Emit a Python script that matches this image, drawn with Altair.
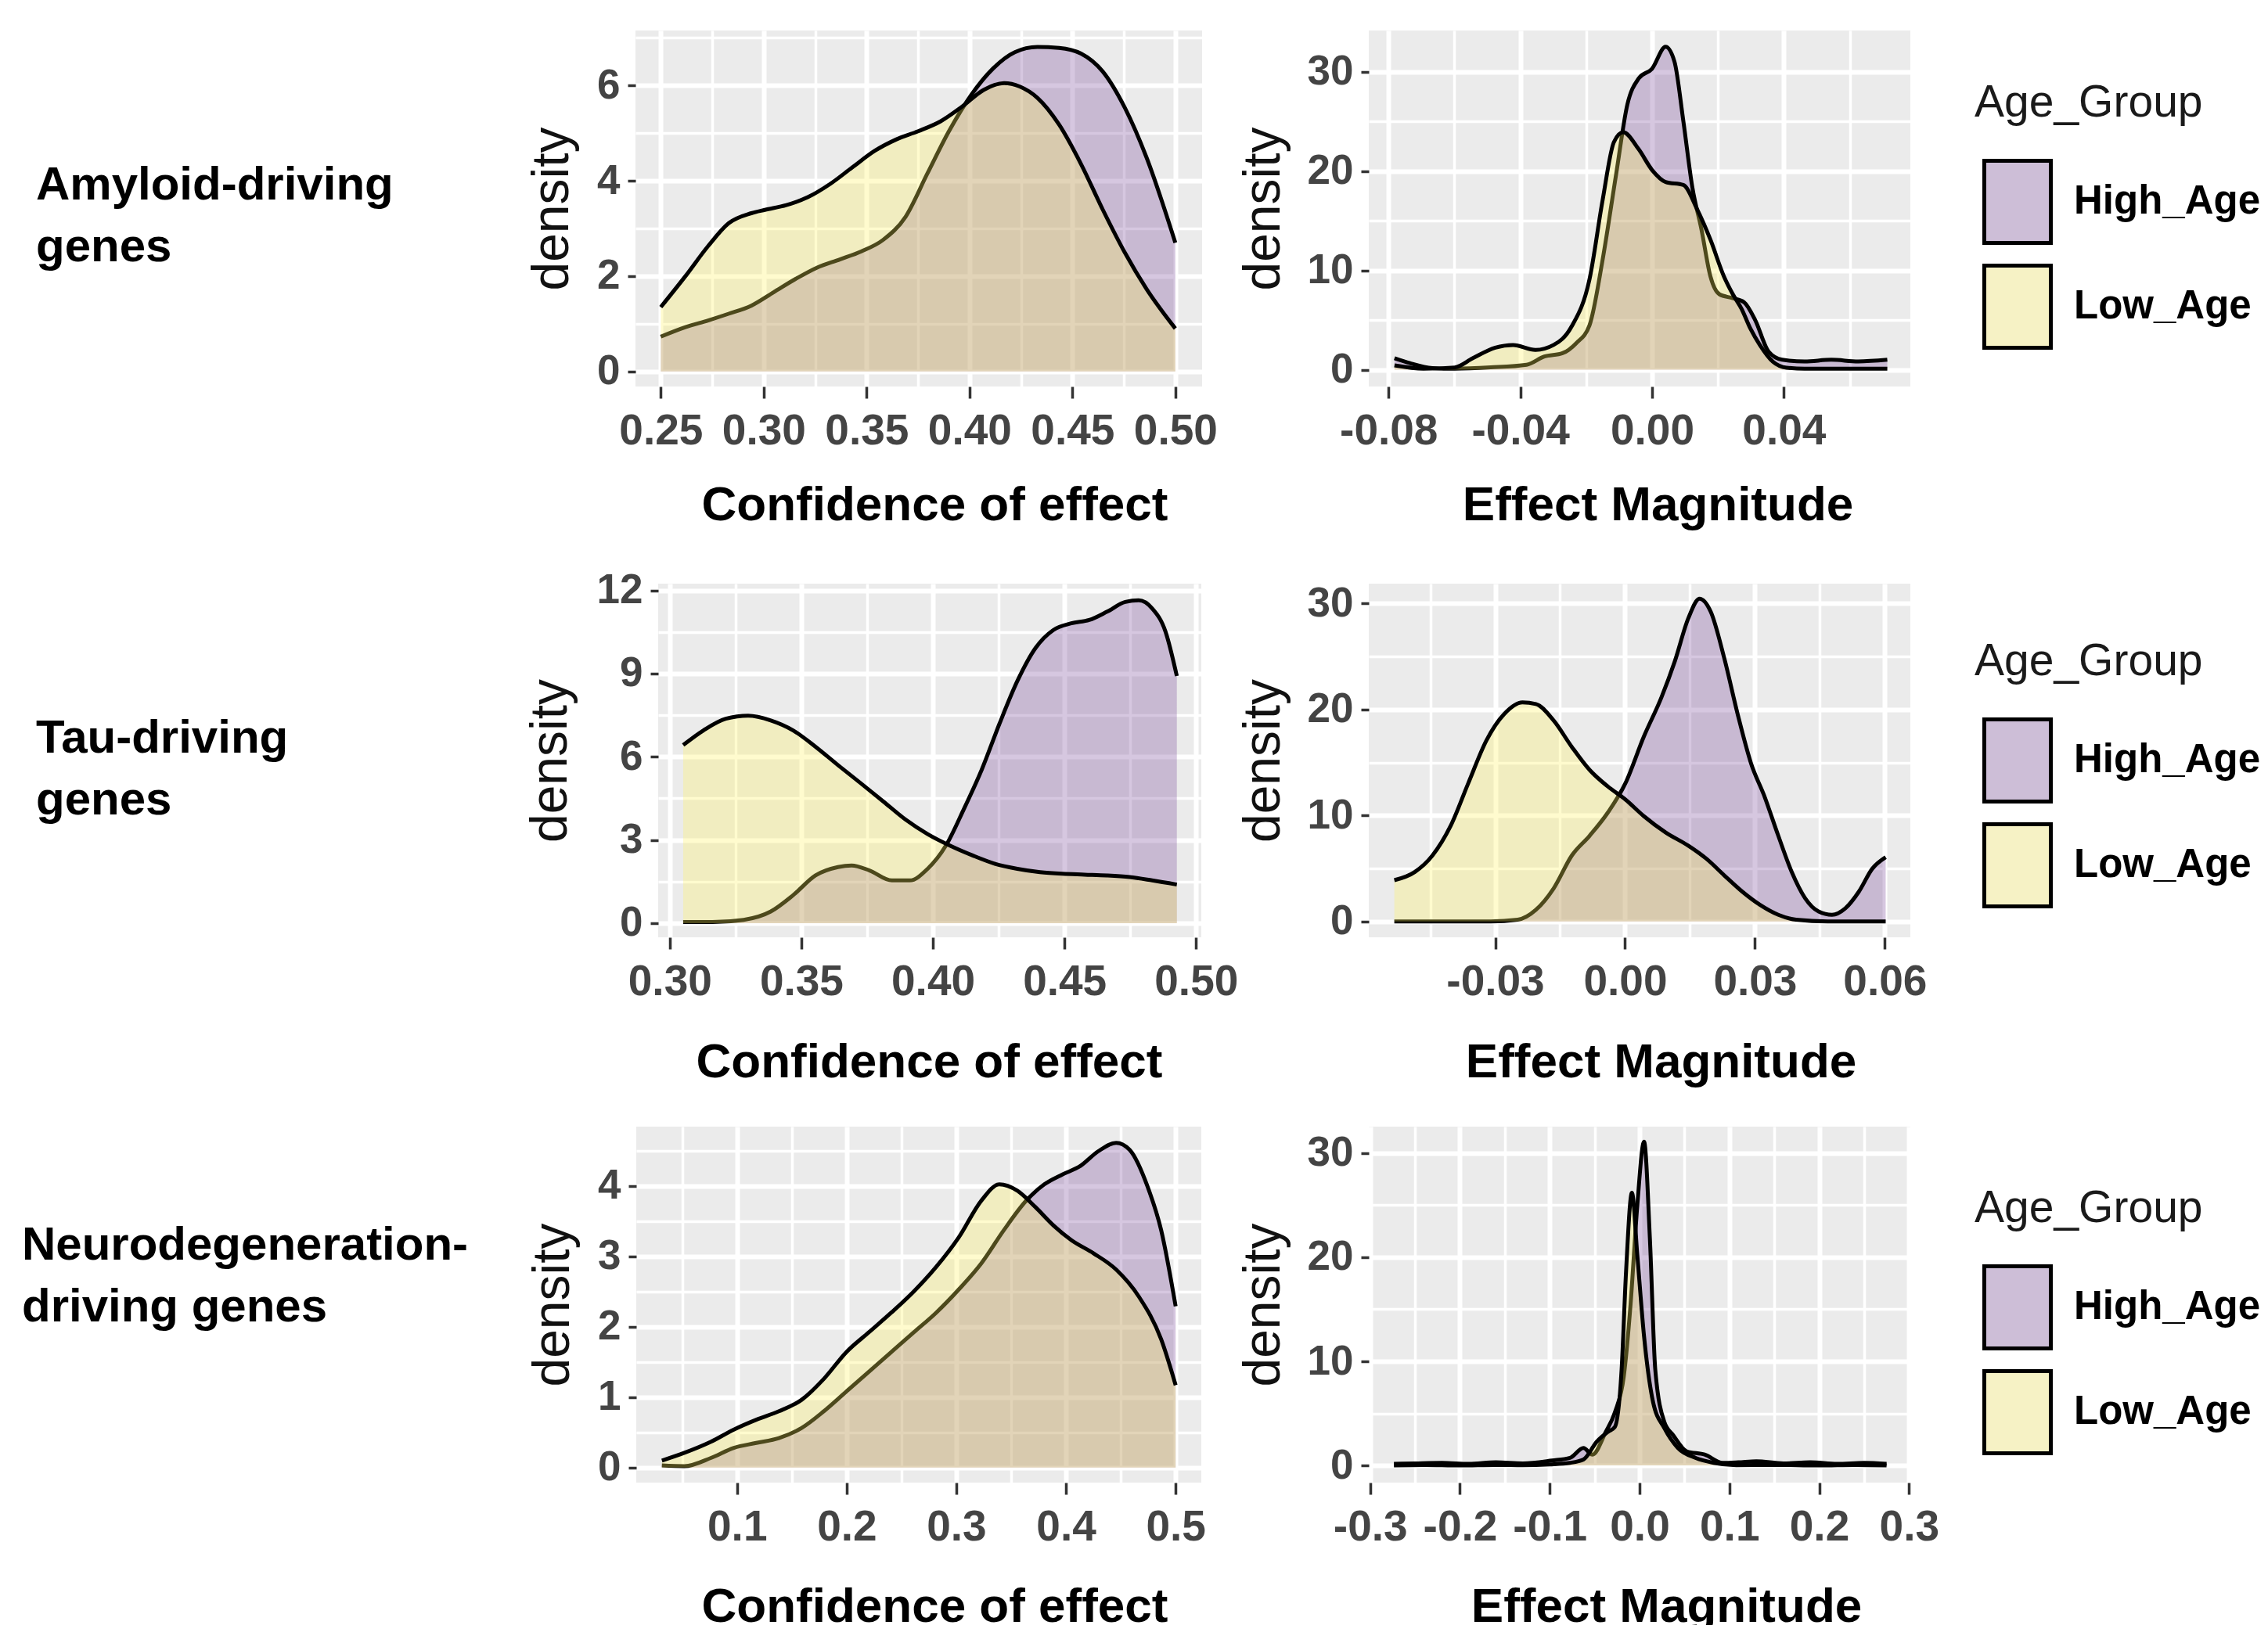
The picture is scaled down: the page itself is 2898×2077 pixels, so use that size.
import altair as alt
import pandas as pd

# ---------------- data ----------------
GROUPS = ["High_Age", "Low_Age"]

# Row 1: Amyloid-driving genes
AMY_CONF_HIGH_X = [0.25, 0.262, 0.273, 0.283, 0.294, 0.3048, 0.3155, 0.326, 0.337, 0.3475, 0.358, 0.369,
                   0.3795, 0.39, 0.4008, 0.4115, 0.422, 0.433, 0.4435, 0.4542, 0.4648, 0.4755, 0.486, 0.5]
AMY_CONF_HIGH_Y = [0.73, 0.93, 1.07, 1.21, 1.38, 1.66, 1.94, 2.18, 2.35, 2.52, 2.76, 3.25,
                   4.15, 5.04, 5.8, 6.36, 6.7, 6.81, 6.79, 6.67, 6.29, 5.53, 4.49, 2.7]
AMY_CONF_LOW_X = [0.25, 0.262, 0.273, 0.283, 0.294, 0.3006, 0.311, 0.3216, 0.3325, 0.343, 0.354, 0.3645, 0.375,
                  0.386, 0.3965, 0.407, 0.4168, 0.4243, 0.433, 0.4435, 0.4542, 0.4648, 0.4755, 0.486, 0.5]
AMY_CONF_LOW_Y = [1.35, 2.0, 2.63, 3.11, 3.32, 3.39, 3.49, 3.66, 3.94, 4.28, 4.63, 4.87, 5.04,
                  5.25, 5.56, 5.91, 6.05, 5.98, 5.74, 5.18, 4.35, 3.39, 2.49, 1.73, 0.9]

AMY_MAG_HIGH_X = [-0.0782, -0.0735, -0.0667, -0.0599, -0.049, -0.0381, -0.0327, -0.0272, -0.0231, -0.019, -0.015,
                  -0.0109, -0.0075, -0.0041, 0.0, 0.0041, 0.0068, 0.0095, 0.0122, 0.015, 0.0177, 0.0204, 0.0245,
                  0.0279, 0.0313, 0.0354, 0.0395, 0.0463, 0.0544, 0.0626, 0.0714]
AMY_MAG_HIGH_Y = [1.16, 0.66, 0.17, 0.1, 0.23, 0.5, 1.33, 1.66, 2.65, 4.47, 11.1,
                  19.7, 26.7, 29.3, 30.3, 32.5, 31.0, 25.0, 18.4, 14.1, 9.4, 7.6, 7.2,
                  6.8, 5.0, 1.8, 1.0, 0.83, 1.0, 0.83, 1.0]
AMY_MAG_LOW_X = [-0.0782, -0.0694, -0.0599, -0.0544, -0.0476, -0.0422, -0.0354, -0.0299, -0.0245, -0.019, -0.015,
                 -0.0116, -0.0088, -0.0041, 0.0, 0.0041, 0.0095, 0.0136, 0.0177, 0.0218, 0.0245, 0.0272, 0.0299,
                 0.0327, 0.0367, 0.0408, 0.0463, 0.0599, 0.0714]
AMY_MAG_LOW_Y = [0.43, 0.1, 0.23, 1.16, 2.22, 2.49, 1.99, 2.49, 4.31, 9.1, 17.1,
                 22.9, 23.9, 22.2, 20.1, 18.9, 18.6, 16.2, 13.1, 9.4, 7.6, 6.1, 4.1,
                 2.5, 0.8, 0.2, 0.1, 0.1, 0.1]

# Row 2: Tau-driving genes
TAU_CONF_HIGH_X = [0.3051, 0.3162, 0.3281, 0.3384, 0.3469, 0.3554, 0.3639, 0.3691, 0.3759, 0.3844, 0.3912, 0.398,
                   0.4049, 0.4117, 0.4185, 0.4253, 0.4321, 0.439, 0.4458, 0.4526, 0.4594, 0.4662, 0.4731, 0.4782,
                   0.4833, 0.4884, 0.4927]
TAU_CONF_HIGH_Y = [0.04, 0.04, 0.12, 0.42, 1.01, 1.72, 2.02, 2.08, 1.90, 1.54, 1.54, 1.96,
                   2.79, 4.10, 5.52, 7.19, 8.73, 9.92, 10.57, 10.81, 10.93, 11.23, 11.58, 11.64,
                   11.35, 10.51, 8.91]
TAU_CONF_LOW_X = [0.3051, 0.3128, 0.3213, 0.3298, 0.3384, 0.3469, 0.3554, 0.3639, 0.3725, 0.381, 0.3895, 0.398,
                  0.4066, 0.4151, 0.4236, 0.4321, 0.4407, 0.4492, 0.4577, 0.4662, 0.4748, 0.4833, 0.4927]
TAU_CONF_LOW_Y = [6.42, 6.95, 7.37, 7.48, 7.31, 6.95, 6.36, 5.70, 5.05, 4.40, 3.74, 3.21,
                  2.79, 2.44, 2.14, 1.96, 1.84, 1.78, 1.75, 1.72, 1.66, 1.54, 1.39]

TAU_MAG_HIGH_X = [-0.0533, -0.0414, -0.031, -0.0248, -0.0206, -0.0165, -0.0123, -0.0082, -0.004, 0.0001, 0.0043,
                  0.0084, 0.0115, 0.0146, 0.0172, 0.0198, 0.0229, 0.026, 0.0291, 0.0322, 0.0354, 0.0385, 0.0416,
                  0.0447, 0.0478, 0.0509, 0.054, 0.0571, 0.0602]
TAU_MAG_HIGH_Y = [0.0, 0.0, 0.0, 0.16, 1.09, 3.11, 6.22, 8.08, 10.26, 13.06, 17.41,
                  21.14, 24.56, 28.6, 30.46, 29.22, 24.87, 19.58, 14.92, 11.81, 8.08, 4.66, 2.18,
                  0.93, 0.62, 1.24, 2.8, 4.97, 6.06]
TAU_MAG_LOW_X = [-0.0533, -0.0486, -0.0445, -0.0403, -0.0362, -0.032, -0.0279, -0.0237, -0.0206, -0.0165, -0.0123,
                 -0.0082, -0.004, 0.0001, 0.0043, 0.0094, 0.0146, 0.0188, 0.0229, 0.0271, 0.0312, 0.0354, 0.0395,
                 0.0468, 0.0602]
TAU_MAG_LOW_Y = [3.89, 4.66, 6.22, 9.01, 13.06, 17.1, 19.58, 20.67, 20.52, 18.96, 16.47,
                 14.3, 12.74, 11.5, 9.95, 8.39, 7.15, 5.91, 4.35, 2.8, 1.55, 0.62, 0.16,
                 0.0, 0.0]

# Row 3: Neurodegeneration-driving genes
NEU_CONF_HIGH_X = [0.0315, 0.052, 0.0766, 0.0971, 0.1176, 0.1382, 0.1587, 0.1792, 0.1997, 0.2202, 0.2407, 0.2612,
                   0.2817, 0.3023, 0.3228, 0.3433, 0.3638, 0.3802, 0.3966, 0.413, 0.4294, 0.4458, 0.4581, 0.4746,
                   0.4868, 0.5]
NEU_CONF_HIGH_Y = [0.03, 0.02, 0.14, 0.28, 0.35, 0.42, 0.56, 0.80, 1.08, 1.36, 1.64, 1.92,
                   2.20, 2.53, 2.90, 3.37, 3.79, 4.02, 4.16, 4.28, 4.49, 4.61, 4.51, 3.98,
                   3.37, 2.29]
NEU_CONF_LOW_X = [0.0315, 0.052, 0.0766, 0.0971, 0.1176, 0.1382, 0.1587, 0.1792, 0.1997, 0.2202, 0.2407, 0.2612,
                  0.2817, 0.3023, 0.3228, 0.3392, 0.3556, 0.372, 0.3884, 0.4048, 0.4253, 0.4458, 0.4663, 0.4868,
                  0.5]
NEU_CONF_LOW_Y = [0.10, 0.21, 0.37, 0.54, 0.68, 0.80, 0.96, 1.26, 1.64, 1.92, 2.20, 2.50,
                  2.85, 3.27, 3.79, 4.02, 3.93, 3.70, 3.44, 3.23, 3.04, 2.81, 2.43, 1.82,
                  1.17]

NEU_MAG_HIGH_X = [-0.2735, -0.25, -0.22, -0.19, -0.16, -0.13, -0.0975, -0.0775, -0.0625, -0.0525, -0.0375, -0.0275,
                  -0.0175, -0.01, -0.0025, 0.005, 0.0115, 0.0175, 0.0275, 0.0375, 0.0525, 0.0725, 0.0925, 0.11,
                  0.13, 0.16, 0.19, 0.22, 0.25, 0.275]
NEU_MAG_HIGH_Y = [0.15, 0.2, 0.25, 0.15, 0.3, 0.2, 0.47, 0.72, 1.67, 1.04, 3.24, 5.1,
                  8.6, 15.5, 25.0, 31.1, 21.8, 9.2, 4.2, 2.9, 1.35, 1.04, 0.25, 0.3,
                  0.4, 0.2, 0.3, 0.15, 0.25, 0.15]
NEU_MAG_LOW_X = [-0.2735, -0.24, -0.2, -0.16, -0.13, -0.1, -0.0775, -0.0625, -0.0475, -0.035, -0.0275, -0.02,
                 -0.015, -0.0085, -0.0025, 0.005, 0.015, 0.0275, 0.0425, 0.0625, 0.0825, 0.1075, 0.15, 0.2,
                 0.24, 0.275]
NEU_MAG_LOW_Y = [0.0, 0.05, 0.0, 0.05, 0.02, 0.1, 0.25, 0.57, 2.3, 3.24, 3.7, 9.2,
                 18.7, 26.2, 20.2, 12.4, 6.1, 3.6, 1.7, 0.72, 0.25, 0.03, 0.05, 0.0,
                 0.05, 0.0]

ROW_LABELS = [["Amyloid-driving", "genes"],
              ["Tau-driving", "genes"],
              ["Neurodegeneration-", "driving genes"]]
X_TITLES = ["Confidence of effect", "Effect Magnitude"]

# axis breaks
AMY_CONF_XMAJ = [0.25, 0.30, 0.35, 0.40, 0.45, 0.50]
AMY_CONF_XMIN = [0.275, 0.325, 0.375, 0.425, 0.475]
AMY_CONF_YMAJ = [0, 2, 4, 6]
AMY_CONF_YMIN = [1, 3, 5, 7]
AMY_MAG_XMAJ = [-0.08, -0.04, 0.0, 0.04]
AMY_MAG_XMIN = [-0.06, -0.02, 0.02, 0.06]
MAG_YMAJ = [0, 10, 20, 30]
MAG_YMIN = [5, 15, 25]
TAU_CONF_XMAJ = [0.30, 0.35, 0.40, 0.45, 0.50]
TAU_CONF_XMIN = [0.325, 0.375, 0.425, 0.475]
TAU_CONF_YMAJ = [0, 3, 6, 9, 12]
TAU_CONF_YMIN = [1.5, 4.5, 7.5, 10.5]
TAU_MAG_XMAJ = [-0.03, 0.0, 0.03, 0.06]
TAU_MAG_XMIN = [-0.045, -0.015, 0.015, 0.045]
NEU_CONF_XMAJ = [0.1, 0.2, 0.3, 0.4, 0.5]
NEU_CONF_XMIN = [0.05, 0.15, 0.25, 0.35, 0.45]
NEU_CONF_YMAJ = [0, 1, 2, 3, 4]
NEU_CONF_YMIN = [0.5, 1.5, 2.5, 3.5, 4.5]
NEU_MAG_XMAJ = [-0.3, -0.2, -0.1, 0.0, 0.1, 0.2, 0.3]
NEU_MAG_XMIN = [-0.25, -0.15, -0.05, 0.05, 0.15, 0.25]

# ---------------- styling ----------------
HIGH_COLOR = "#764498"
LOW_COLOR = "#FFF25C"
KEY_COLORS = ["#CDBED7", "#F6F2C5"]   # legend keys (fill at alpha on grey95)
ALPHA = 0.3
PANEL_BG = "#EBEBEB"
SANS = "'Liberation Sans', Arial, sans-serif"
TICK_LABEL = "#444444"


def make_df(xs, ys, g):
    return pd.DataFrame({"x": xs, "density": ys, "group": g})


def panel(hx, hy, lx, ly, xdom, ydom, w, h, xmaj, xmin, ymaj, ymin, dec,
          xtitle, ytitle_x, xtitle_x, xtitle_y, legend_y):
    dh = make_df(hx, hy, GROUPS[0])
    dl = make_df(lx, ly, GROUPS[1])
    xs = alt.Scale(domain=xdom, nice=False, zero=False)
    ys = alt.Scale(domain=ydom, nice=False, zero=False)
    xlab = "(datum.value < -1e-9 ? '-' : '') + format(abs(datum.value), '.%df')" % dec

    x_major = alt.Axis(values=xmaj, labelExpr=xlab, grid=True, gridColor="white", gridWidth=6,
                       domain=False, ticks=True, tickSize=15, tickWidth=3.5, tickColor="#333333",
                       labelFont=SANS, labelFontSize=55, labelFontWeight="bold", labelColor=TICK_LABEL,
                       labelPadding=15, labelFlush=False, labelOverlap=False,
                       title=xtitle, titleFont=SANS, titleFontSize=62, titleFontWeight="bold",
                       titleColor="black", titleX=xtitle_x, titleY=xtitle_y,
                       titleBaseline="alphabetic", titleAlign="center", titleAngle=0)
    y_major = alt.Axis(values=ymaj, labelExpr="format(datum.value, 'd')", grid=True, gridColor="white",
                       gridWidth=6, domain=False, ticks=True, tickSize=10, tickWidth=3.5,
                       tickColor="#333333", labelFont=SANS, labelFontSize=53, labelFontWeight="bold",
                       labelColor=TICK_LABEL, labelPadding=10, labelFlush=False, labelOverlap=False,
                       title="density", titleFont=SANS, titleFontSize=66, titleFontWeight="normal",
                       titleColor="#111111", titleAngle=270, titleX=ytitle_x, titleY=h / 2,
                       titleBaseline="bottom", titleAlign="center")
    x_minor = alt.Axis(values=xmin, orient="top", grid=True, gridColor="white", gridWidth=3.5,
                       domain=False, ticks=False, labels=False, title="")
    y_minor = alt.Axis(values=ymin, orient="right", grid=True, gridColor="white", gridWidth=3.5,
                       domain=False, ticks=False, labels=False, title="")

    # areas: fixed fills (High drawn first, Low on top, both translucent)
    area_h = alt.Chart(dh).mark_area(fill=HIGH_COLOR, fillOpacity=ALPHA, interpolate="monotone").encode(
        x=alt.X("x:Q", scale=xs, axis=x_major),
        y=alt.Y("density:Q", scale=ys, axis=y_major),
    )
    line_h = alt.Chart(dh).mark_line(color="black", strokeWidth=5, interpolate="monotone",
                                     strokeJoin="round").encode(
        x=alt.X("x:Q", scale=xs, axis=x_minor),
        y=alt.Y("density:Q", scale=ys, axis=y_minor),
    )
    area_l = alt.Chart(dl).mark_area(fill=LOW_COLOR, fillOpacity=ALPHA, interpolate="monotone").encode(
        x=alt.X("x:Q", scale=xs, axis=None),
        y=alt.Y("density:Q", scale=ys, axis=None),
    )
    line_l = alt.Chart(dl).mark_line(color="black", strokeWidth=5, interpolate="monotone",
                                     strokeJoin="round").encode(
        x=alt.X("x:Q", scale=xs, axis=None),
        y=alt.Y("density:Q", scale=ys, axis=None),
    )
    layers = [area_h, line_h, area_l, line_l]

    if legend_y is not False:
        leg = alt.Legend(title="Age_Group", orient="none", legendX=774, legendY=legend_y,
                         direction="vertical", padding=0,
                         titleFont=SANS, titleFontSize=57, titleFontWeight="normal",
                         titleColor="#1a1a1a", titleLimit=600, titlePadding=42,
                         labelFont=SANS, labelFontSize=51, labelFontWeight="bold",
                         labelColor="black", labelLimit=600, labelOffset=17,
                         symbolType="M-0.81,-1H0.81V1H-0.81Z", symbolSize=11025,
                         symbolStrokeColor="black", symbolStrokeWidth=5, symbolOpacity=1,
                         rowPadding=8)
        # key layer without drawn marks: it only carries the legend
        key = alt.Chart(pd.DataFrame({"Age_Group": GROUPS})).transform_filter(
            "datum.Age_Group == 'none'"
        ).mark_square(opacity=1, filled=True).encode(
            color=alt.Color("Age_Group:N", scale=alt.Scale(domain=GROUPS, range=KEY_COLORS), legend=leg)
        )
        layers.append(key)

    return alt.layer(*layers).resolve_axis(
        x="independent", y="independent"
    ).properties(width=w, height=h, view=alt.ViewBackground(fill=PANEL_BG, stroke="transparent",
                                                            strokeWidth=0))


def label_chart(lines, x, y, w, h):
    return alt.Chart(pd.DataFrame({"k": [0]})).mark_text(
        align="left", baseline="alphabetic", font=SANS, fontSize=60, fontWeight="bold",
        color="black", lineHeight=79, text=lines,
    ).encode(x=alt.value(x), y=alt.value(y)).properties(
        width=w, height=h, view=alt.ViewBackground(fill="transparent", stroke="transparent", strokeWidth=0)
    )


# Row 1
r1_left = panel(AMY_CONF_HIGH_X, AMY_CONF_HIGH_Y, AMY_CONF_LOW_X, AMY_CONF_LOW_Y,
                [0.2377, 0.513], [-0.317, 7.154], 724, 455,
                AMY_CONF_XMAJ, AMY_CONF_XMIN, AMY_CONF_YMAJ, AMY_CONF_YMIN, 2,
                X_TITLES[0], -73, 382, 170, False)
r1_right = panel(AMY_MAG_HIGH_X, AMY_MAG_HIGH_Y, AMY_MAG_LOW_X, AMY_MAG_LOW_Y,
                 [-0.086, 0.0784], [-1.69, 34.14], 692, 455,
                 AMY_MAG_XMAJ, AMY_MAG_XMIN, MAG_YMAJ, MAG_YMIN, 2,
                 X_TITLES[1], -101, 369, 170, 65)
row1 = alt.hconcat(label_chart(ROW_LABELS[0], 38, 216, 591, 455), r1_left, r1_right,
                   spacing=213, bounds="flush").resolve_scale(color="independent")

# Row 2
r2_left = panel(TAU_CONF_HIGH_X, TAU_CONF_HIGH_Y, TAU_CONF_LOW_X, TAU_CONF_LOW_Y,
                [0.2956, 0.502], [-0.51, 12.24], 694, 452,
                TAU_CONF_XMAJ, TAU_CONF_XMIN, TAU_CONF_YMAJ, TAU_CONF_YMIN, 2,
                X_TITLES[0], -104, 346, 178, False)
r2_right = panel(TAU_MAG_HIGH_X, TAU_MAG_HIGH_Y, TAU_MAG_LOW_X, TAU_MAG_LOW_Y,
                 [-0.0592, 0.0659], [-1.5, 31.88], 692, 452,
                 TAU_MAG_XMAJ, TAU_MAG_XMIN, MAG_YMAJ, MAG_YMIN, 2,
                 X_TITLES[1], -101, 373, 178, 72)
row2 = alt.hconcat(label_chart(ROW_LABELS[1], 38, 216, 619, 452), r2_left, r2_right,
                   spacing=214, bounds="flush").resolve_scale(color="independent")

# Row 3
r3_left = panel(NEU_CONF_HIGH_X, NEU_CONF_HIGH_Y, NEU_CONF_LOW_X, NEU_CONF_LOW_Y,
                [0.0081, 0.5234], [-0.213, 4.84], 722, 455,
                NEU_CONF_XMAJ, NEU_CONF_XMIN, NEU_CONF_YMAJ, NEU_CONF_YMIN, 1,
                X_TITLES[0], -73, 381, 177, False)
r3_right = panel(NEU_MAG_HIGH_X, NEU_MAG_HIGH_Y, NEU_MAG_LOW_X, NEU_MAG_LOW_Y,
                 [-0.3015, 0.3015], [-1.65, 32.55], 692, 455,
                 NEU_MAG_XMAJ, NEU_MAG_XMIN, MAG_YMAJ, MAG_YMIN, 1,
                 X_TITLES[1], -101, 380, 177, 77)
row3 = alt.hconcat(label_chart(ROW_LABELS[2], 20, 170, 591, 455), r3_left, r3_right,
                   spacing=214, bounds="flush").resolve_scale(color="independent")

chart = alt.vconcat(row1, row2, row3, spacing=52).resolve_scale(
    color="independent"
).properties(
    padding={"left": 0, "top": 31, "right": 0, "bottom": 0}
).configure_view(stroke="transparent", strokeWidth=0).configure(background="white")

chart.save("out.html", embed_options={"renderer": "svg", "actions": False})
